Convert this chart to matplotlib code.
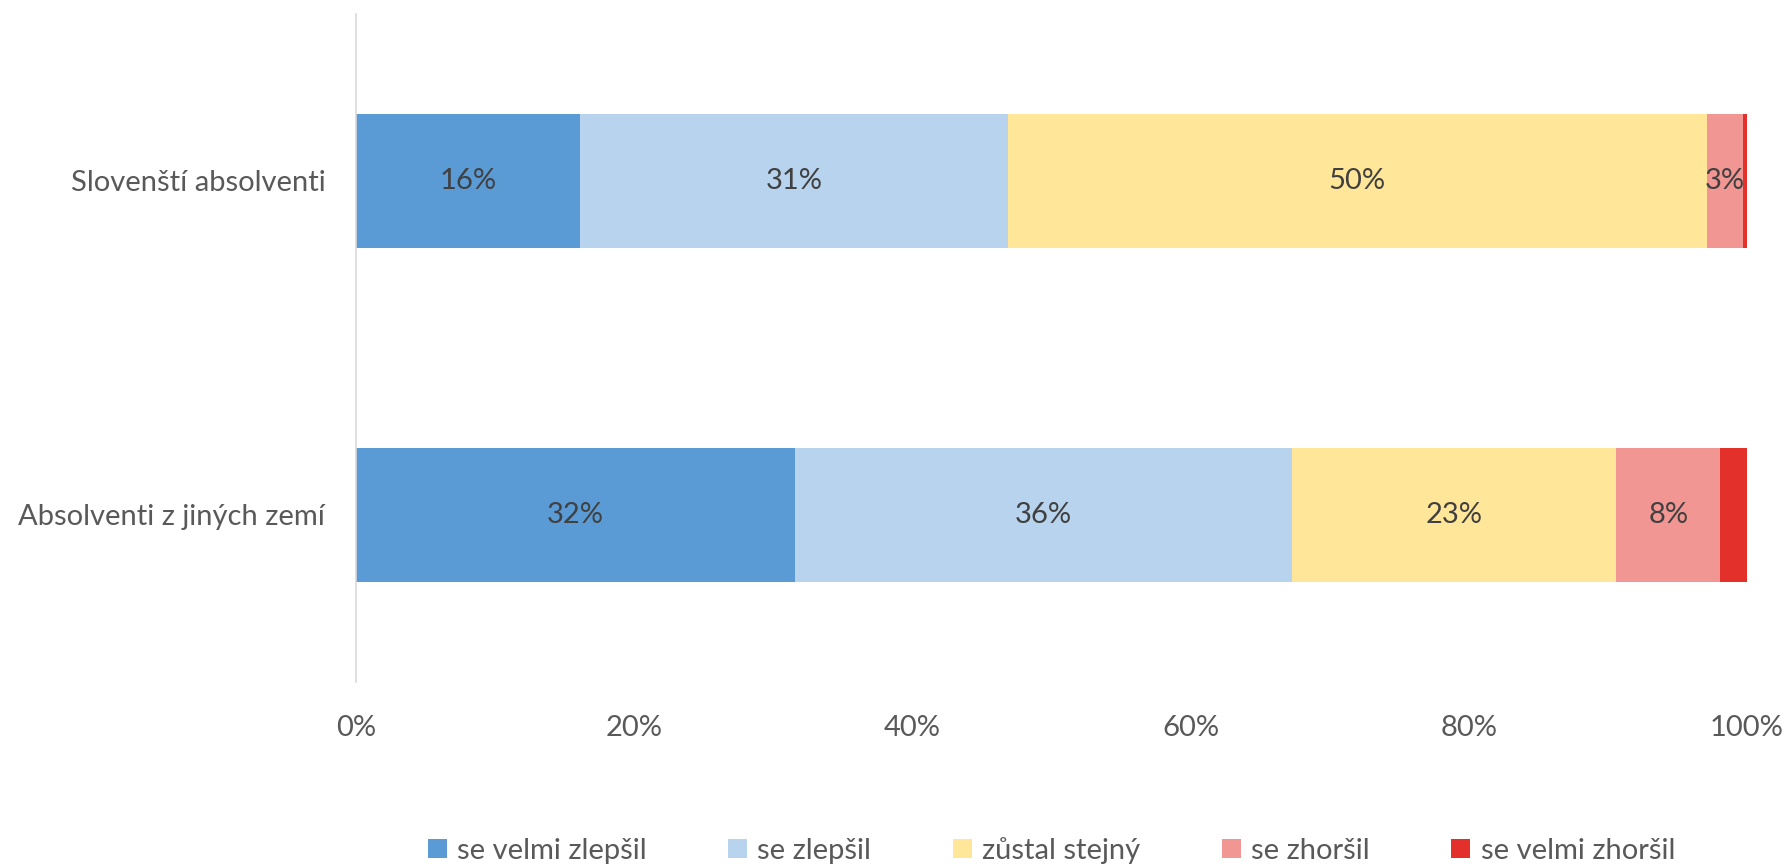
import matplotlib
matplotlib.use("Agg")
import matplotlib.pyplot as plt
import numpy as np

categories = ["Slovenští absolventi", "Absolventi z jiných zemí"]
series = ["se velmi zlepšil", "se zlepšil", "zůstal stejný", "se zhoršil", "se velmi zhoršil"]
values = {
    "se velmi zlepšil": [16.1, 31.6],
    "se zlepšil": [30.8, 35.7],
    "zůstal stejný": [50.2, 23.3],
    "se zhoršil": [2.6, 7.5],
    "se velmi zhoršil": [0.3, 1.9],
}
labels = {
    "se velmi zlepšil": ["16%", "32%"],
    "se zlepšil": ["31%", "36%"],
    "zůstal stejný": ["50%", "23%"],
    "se zhoršil": ["3%", "8%"],
    "se velmi zhoršil": ["", ""],
}
colors = ["#5b9bd5", "#b8d3ed", "#ffe699", "#f19693", "#e3302a"]
xticks = [0, 20, 40, 60, 80, 100]
xticklabels = ["0%", "20%", "40%", "60%", "80%", "100%"]

plt.rcParams['font.family'] = ['Lato', 'DejaVu Sans']
txt = "#595959"
fs = 21

fig = plt.figure(figsize=(17.88, 8.64), dpi=100)
ax = fig.add_axes([0.199, 0.211, 0.778, 0.773])

y = np.arange(len(categories))
left = np.zeros(len(categories))
for s, c in zip(series, colors):
    v = np.array(values[s])
    ax.barh(y, v, left=left, height=0.4, color=c, edgecolor="none", label=s)
    for i in range(len(categories)):
        if labels[s][i]:
            ax.text(left[i] + v[i] / 2, y[i], labels[s][i], ha="center", va="center",
                    fontsize=fs, color="#404040")
    left += v

ax.set_xlim(0, 100)
ax.set_ylim(1.5, -0.5)
ax.set_yticks(y)
ax.set_yticklabels(categories, fontsize=fs, color=txt)
ax.set_xticks(xticks)
ax.set_xticklabels(xticklabels, fontsize=fs, color=txt)
ax.tick_params(axis="both", length=0)
ax.tick_params(axis="x", pad=24)
ax.tick_params(axis="y", pad=22)
for sp in ["top", "right", "bottom"]:
    ax.spines[sp].set_visible(False)
ax.spines["left"].set_color("#d9d9d9")
ax.spines["left"].set_linewidth(1.2)

leg = fig.legend(loc="center", bbox_to_anchor=(0.588, 0.016), ncol=5, frameon=False,
                 fontsize=fs, handlelength=0.65, handleheight=0.65, handletextpad=0.35,
                 columnspacing=2.8, labelcolor=txt)

fig.savefig("out.png", dpi=100)
